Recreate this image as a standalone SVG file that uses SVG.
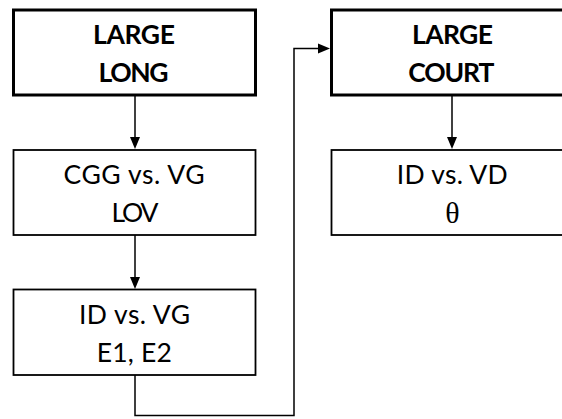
<svg xmlns="http://www.w3.org/2000/svg" width="562" height="419" viewBox="0 0 562 419">
<style>
.thick{fill:#fff;stroke:#000;stroke-width:3}
.thin{fill:#fff;stroke:#000;stroke-width:1.8}
.b{font-family:Lato,"Liberation Sans",sans-serif;font-weight:bold;font-size:26.5px;text-anchor:middle;fill:#000}
.r{font-family:Lato,"Liberation Sans",sans-serif;font-size:26.5px;text-anchor:middle;fill:#000}
.s{font-family:"Liberation Serif",serif;font-size:30px;text-anchor:middle;fill:#000}
.c{fill:none;stroke:#000;stroke-width:1.5}
</style>
<defs>
<path id="ahd" d="M-5,-12 L5,-12 L0,0 Z" fill="#000"/>
</defs>
<rect width="562" height="419" fill="#fff"/>
<g id="connectors">
<line class="c" x1="135" y1="95" x2="135" y2="139"/>
<use href="#ahd" x="135" y="149"/>
<line class="c" x1="135" y1="235" x2="135" y2="279"/>
<use href="#ahd" x="135" y="289"/>
<line class="c" x1="452" y1="95" x2="452" y2="139"/>
<use href="#ahd" x="452" y="149"/>
<polyline class="c" points="135,375 135,415.5 294,415.5 294,48.5 320,48.5"/>
<path d="M318,43.5 L330,48.5 L318,53.5 Z" fill="#000"/>
</g>
<g id="large-long">
<rect class="thick" x="13.5" y="10" width="242" height="85"/>
<text class="b" x="134" y="44.3" textLength="82">LARGE</text>
<text class="b" x="133.5" y="82" textLength="70">LONG</text>
</g>
<g id="cgg-vg">
<rect class="thin" x="13.5" y="150" width="242" height="85"/>
<text class="r" x="134" y="184" textLength="141">CGG vs. VG</text>
<text class="r" x="135" y="221.5" textLength="47">LOV</text>
</g>
<g id="id-vg">
<rect class="thin" x="13.5" y="289.5" width="242" height="85.5"/>
<text class="r" x="134.5" y="324" textLength="111">ID vs. VG</text>
<text class="r" x="134.3" y="361.5" textLength="75">E1, E2</text>
</g>
<g id="large-court">
<rect class="thick" x="331.5" y="10" width="242" height="85"/>
<text class="b" x="452.5" y="44.3" textLength="81">LARGE</text>
<text class="b" x="451.3" y="82" textLength="86">COURT</text>
</g>
<g id="id-vd">
<rect class="thin" x="331.5" y="150" width="242" height="85"/>
<text class="r" x="452.2" y="184" textLength="111">ID vs. VD</text>
<text class="s" x="452.5" y="222.5">θ</text>
</g>
</svg>
